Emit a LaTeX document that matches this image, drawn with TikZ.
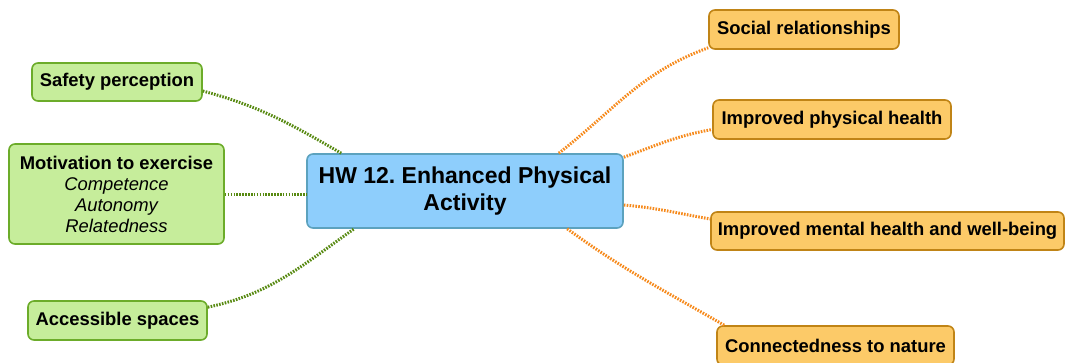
\documentclass[tikz,border=0pt]{standalone}
\usepackage{fontspec}
\setmainfont{Liberation Sans}
\frenchspacing
\begin{document}
\begin{tikzpicture}[x=1pt,y=-1pt,
  box/.style={draw, rounded corners=6pt, line width=1.6pt, inner sep=0pt, align=center,
    font=\fontsize{18.4}{21}\selectfont\bfseries},
  greenbox/.style={box, fill=leafgreen, draw=leafgreenline},
  orangebox/.style={box, fill=leaforange, draw=leaforangeline},
  hubbox/.style={box, fill=hubblue, draw=hubline, font=\fontsize{23}{27}\selectfont\bfseries},
  link/.style={line width=3pt, dash pattern=on 1.6pt off 1.3pt},
  greenlink/.style={link, draw=greenwire},
  orangelink/.style={link, draw=orangewire}]
\definecolor{leafgreen}{RGB}{198,237,155}
\definecolor{leafgreenline}{RGB}{108,172,42}
\definecolor{leaforange}{RGB}{252,202,104}
\definecolor{leaforangeline}{RGB}{192,132,22}
\definecolor{hubblue}{RGB}{142,206,252}
\definecolor{hubline}{RGB}{92,162,190}
\definecolor{greenwire}{RGB}{88,138,18}
\definecolor{orangewire}{RGB}{246,138,28}

\useasboundingbox (0,0) rectangle (1065,362);
\clip (0,0) rectangle (1065,362);

% central topic
\node[hubbox, minimum width=316pt, minimum height=74pt] (hub) at (465,191)
  {HW 12. Enhanced Physical\\Activity};

% influencing factors (left)
\node[greenbox, minimum width=170pt, minimum height=38pt] (safety) at (117,82) {Safety perception};
\node[greenbox, minimum width=215pt, minimum height=100pt] (motiv) at (116.5,194)
  {Motivation to exercise\\{\mdseries\itshape Competence}\\{\mdseries\itshape Autonomy}\\{\mdseries\itshape Relatedness}};
\node[greenbox, minimum width=179pt, minimum height=39pt] (access) at (117.5,320.5) {Accessible spaces};

% outcomes (right)
\node[orangebox, minimum width=190pt, minimum height=39pt] (social) at (804,29.5) {Social relationships};
\node[orangebox, minimum width=238pt, minimum height=39pt] (phys) at (832,119.5) {Improved physical health};
\node[orangebox, minimum width=353pt, minimum height=38pt] (mental) at (887.5,231) {Improved mental health and well-being};
\node[orangebox, minimum width=237pt, minimum height=39pt] (nature) at (835.5,345.5) {Connectedness to nature};

% connectors
\draw[greenlink] ([yshift=-9pt]safety.east) to[out=-15,in=150] ([xshift=35pt]hub.north west);
\draw[greenlink] (motiv.east) -- (motiv.east -| hub.west);
\draw[greenlink] ([yshift=-7pt]access.north east) to[out=12,in=-145] ([xshift=48pt]hub.south west);

\draw[orangelink] ([xshift=-65pt]hub.north east) to[out=38,in=200] ([yshift=2pt]social.south west);
\draw[orangelink] ([yshift=-4pt]hub.north east) to[out=20,in=190] ([yshift=-10pt]phys.west);
\draw[orangelink] ([yshift=-14pt]hub.east) to[out=-5,in=170] ([yshift=12pt]mental.west);
\draw[orangelink] ([xshift=261pt]hub.south west) to[out=-36,in=150] ([xshift=8pt]nature.north west);
\end{tikzpicture}
\end{document}
